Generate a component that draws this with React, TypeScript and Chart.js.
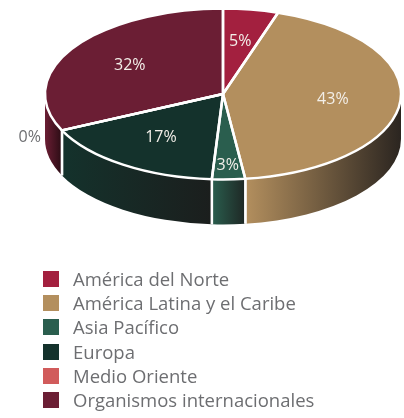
import React, { useEffect, useRef } from "react";
import { Chart, registerables } from "chart.js";

Chart.register(...registerables);

const categories = [
  "América del Norte",
  "América Latina y el Caribe",
  "Asia Pacífico",
  "Europa",
  "Medio Oriente",
  "Organismos internacionales",
];
const values = [5, 43, 3, 17, 0, 32];
const valueLabels = ["5%", "43%", "3%", "17%", "0%", "32%"];
const colors = ["#a3203f", "#b38f5e", "#2a5e4e", "#14322c", "#d15b5b", "#6b1e34"];
const sideDark = ["#3a0c18", "#2b2520", "#1e2724", "#1b1e1d", "#3a1a1a", "#2a0c14"];

const TOP_CY = 94;
const TILT = 0.48;
const DEPTH = 45;

const pie3d = {
  id: "pie3d",
  beforeDatasetsDraw(chart: any) {
    const ctx = chart.ctx;
    const meta = chart.getDatasetMeta(0);
    const arcs = meta.data as any[];
    if (!arcs.length) return;
    const cx = arcs[0].x;
    const R = arcs[0].outerRadius;
    const ry = R * TILT;
    arcs.forEach((arc: any, i: number) => {
      const s = arc.startAngle;
      const e = arc.endAngle;
      if (e - s <= 0) return;
      for (let k = -1; k <= 2; k++) {
        const lo = Math.max(s, 2 * Math.PI * k);
        const hi = Math.min(e, 2 * Math.PI * k + Math.PI);
        if (hi <= lo) continue;
        const xr = cx + R * Math.cos(lo);
        const xl = cx + R * Math.cos(hi);
        const g = ctx.createLinearGradient(xl, 0, xr, 0);
        g.addColorStop(0, colors[i]);
        g.addColorStop(1, sideDark[i]);
        ctx.save();
        ctx.beginPath();
        ctx.ellipse(cx, TOP_CY, R, ry, 0, lo, hi, false);
        ctx.lineTo(cx + R * Math.cos(hi), TOP_CY + ry * Math.sin(hi) + DEPTH);
        ctx.ellipse(cx, TOP_CY + DEPTH, R, ry, 0, hi, lo, true);
        ctx.closePath();
        ctx.fillStyle = g;
        ctx.fill();
        ctx.strokeStyle = "#ffffff";
        ctx.lineWidth = 2.5;
        [lo, hi].forEach((a) => {
          if (Math.abs(Math.sin(a)) < 1e-3) return;
          ctx.beginPath();
          ctx.moveTo(cx + R * Math.cos(a), TOP_CY + ry * Math.sin(a));
          ctx.lineTo(cx + R * Math.cos(a), TOP_CY + ry * Math.sin(a) + DEPTH);
          ctx.stroke();
        });
        ctx.restore();
      }
    });
    ctx.save();
    ctx.translate(0, TOP_CY);
    ctx.scale(1, TILT);
    ctx.translate(0, -arcs[0].y);
  },
  afterDatasetsDraw(chart: any) {
    const ctx = chart.ctx;
    ctx.restore();
    const meta = chart.getDatasetMeta(0);
    const arcs = meta.data as any[];
    if (!arcs.length) return;
    const cx = arcs[0].x;
    const R = arcs[0].outerRadius;
    const ry = R * TILT;
    ctx.save();
    ctx.strokeStyle = "#ffffff";
    ctx.lineWidth = 2.5;
    ctx.lineJoin = "round";
    arcs.forEach((arc: any) => {
      const s = arc.startAngle;
      const e = arc.endAngle;
      ctx.beginPath();
      ctx.moveTo(cx, TOP_CY);
      ctx.lineTo(cx + R * Math.cos(s), TOP_CY + ry * Math.sin(s));
      if (e > s) ctx.ellipse(cx, TOP_CY, R, ry, 0, s, e, false);
      ctx.closePath();
      ctx.stroke();
    });
    ctx.font = "16px 'Open Sans'";
    ctx.textAlign = "center";
    ctx.textBaseline = "middle";
    arcs.forEach((arc: any, i: number) => {
      const mid = (arc.startAngle + arc.endAngle) / 2;
      const zero = values[i] === 0;
      const narrow = arc.endAngle - arc.startAngle < 0.3;
      const f = zero ? 1.2 : narrow ? 0.84 : 0.62;
      const x = cx + R * f * Math.cos(mid);
      const y = TOP_CY + ry * f * Math.sin(mid);
      ctx.fillStyle = zero ? "#6d6e71" : "#f3efe9";
      ctx.fillText(valueLabels[i], x, y);
    });
    ctx.restore();
  },
};

export default function App() {
  const ref = useRef<HTMLCanvasElement | null>(null);
  useEffect(() => {
    document.body.style.margin = "0";
    if (!ref.current) return;
    const chart = new Chart(ref.current, {
      type: "pie",
      data: {
        labels: categories,
        datasets: [
          {
            data: values,
            backgroundColor: colors,
            borderWidth: 0,
          },
        ],
      },
      options: {
        responsive: false,
        animation: false,
        layout: { padding: { left: 45, right: 3, top: 0, bottom: 62 } },
        plugins: {
          legend: { display: false },
          tooltip: { enabled: false },
        },
      },
      plugins: [pie3d],
    });
    return () => chart.destroy();
  }, []);

  return (
    <div style={{ position: "relative", width: 404, height: 418, background: "#fff", overflow: "hidden" }}>
      <canvas ref={ref} width={404} height={418} style={{ position: "absolute", left: 0, top: 0 }} />
      <div style={{ position: "absolute", left: 0, top: 267 }}>
        {categories.map((c, i) => (
          <div key={c} style={{ position: "relative", height: 24.2, lineHeight: "24px" }}>
            <span
              style={{
                position: "absolute",
                left: 43,
                top: 4,
                width: 16,
                height: 16,
                background: colors[i],
              }}
            />
            <span
              style={{
                position: "absolute",
                left: 73,
                top: 0,
                whiteSpace: "nowrap",
                fontFamily: "'Open Sans'",
                fontSize: 18.5,
                color: "#6d6e71",
              }}
            >
              {c}
            </span>
          </div>
        ))}
      </div>
    </div>
  );
}
